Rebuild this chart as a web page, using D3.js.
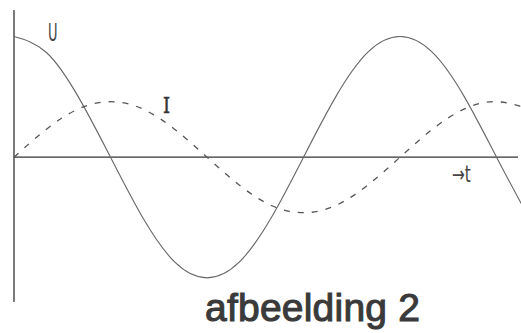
<!DOCTYPE html>
<html>
<head>
    <meta charset="utf-8">
    <script type="text/javascript" src="https://cdn.jsdelivr.net/npm/d3@7/dist/d3.min.js"></script>
    <style>
        body { margin: 0; background: #fff; }
    </style>
</head>
<body>
    <div id="viz"></div>
    <script type="text/javascript">

    // phase angle in degrees along the time axis
    var phase = [0, 30, 60, 90, 120, 150, 180, 210, 240, 270, 300, 330, 360, 390, 420, 450, 480];
    // voltage U (solid) and current I (dashed)
    var voltU = [10, 8.7, 5, 0, -5, -8.7, -10, -8.7, -5, 0, 5, 8.7, 10, 8.7, 5, 0, -5];
    var currI = [0, 2.3, 4, 4.6, 4, 2.3, 0, -2.3, -4, -4.6, -4, -2.3, 0, 2.3, 4, 4.6, 4];

    var labels = ["U", "I", "\u2192t"];
    var caption = "afbeelding 2";

    var W = 521, H = 333;

    var svg = d3.select("#viz")
        .append("svg")
        .attr("width", W)
        .attr("height", H);

    var x = d3.scaleLinear().domain([0, 470]).range([14, 518]);
    var y = d3.scaleLinear().domain([-12, 12.2]).range([302, 10]);

    // axes: plain lines, no ticks
    svg.append("line")
        .attr("x1", x(0)).attr("x2", x(0))
        .attr("y1", y(-12)).attr("y2", y(12.2))
        .style("stroke", "#333")
        .style("stroke-width", 1.3);

    svg.append("line")
        .attr("x1", x(0)).attr("x2", x(470))
        .attr("y1", y(0)).attr("y2", y(0))
        .style("stroke", "#333")
        .style("stroke-width", 1.3);

    function series(vals) {
        return phase.map(function(p, i) { return [p, vals[i]]; });
    }

    var line = d3.line()
        .x(function(d) { return x(d[0]); })
        .y(function(d) { return y(d[1]); })
        .curve(d3.curveNatural);

    svg.append("path")
        .datum(series(voltU))
        .attr("d", line)
        .style("fill", "none")
        .style("stroke", "#666")
        .style("stroke-width", 1.1);

    svg.append("path")
        .datum(series(currI))
        .attr("d", line)
        .style("fill", "none")
        .style("stroke", "#555")
        .style("stroke-width", 1.3)
        .style("stroke-dasharray", "6,8");

    // curve labels (tall, narrow lettering as on the scan)
    svg.append("text")
        .attr("transform", "translate(48,41) scale(0.85,1.45)")
        .style("font-family", "DejaVu Sans Condensed, DejaVu Sans, sans-serif")
        .style("font-size", "17px")
        .style("fill", "#444")
        .text(labels[0]);

    svg.append("text")
        .attr("transform", "translate(163,113) scale(1,1.25)")
        .style("font-family", "DejaVu Serif, serif")
        .style("font-size", "18px")
        .style("fill", "#333")
        .style("stroke", "#333")
        .style("stroke-width", 0.4)
        .text(labels[1]);

    svg.append("text")
        .attr("transform", "translate(452,182) scale(1,1.3)")
        .style("font-family", "DejaVu Sans Condensed, DejaVu Sans, sans-serif")
        .style("font-size", "17px")
        .style("fill", "#444")
        .text(labels[2]);

    svg.append("text")
        .attr("x", 205).attr("y", 321)
        .attr("textLength", 215)
        .style("font-family", "Liberation Sans, Arial, sans-serif")
        .style("font-size", "39px")
        .style("fill", "#3a3a3a")
        .style("stroke", "#3a3a3a")
        .style("stroke-width", 1.1)
        .text(caption);

    </script>
</body>
</html>
